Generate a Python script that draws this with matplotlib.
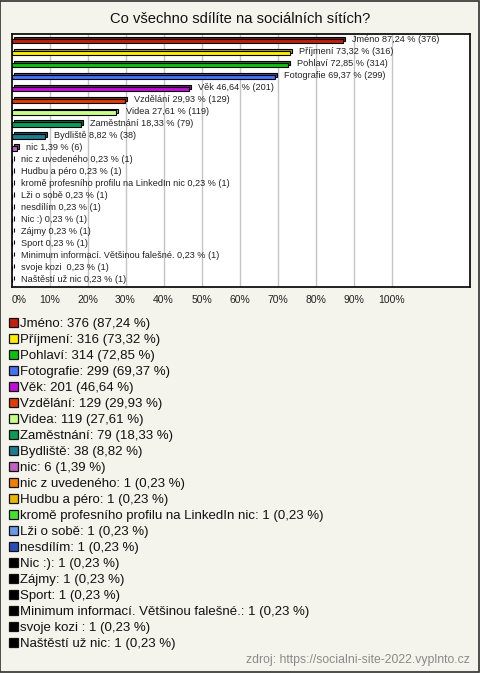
import matplotlib
matplotlib.use("Agg")
import matplotlib.pyplot as plt
from matplotlib.patches import Rectangle
from matplotlib.colors import to_rgb

plt.rcParams['font.family'] = ['Liberation Sans', 'DejaVu Sans']

# data
labels = ["Jméno", "Příjmení", "Pohlaví", "Fotografie", "Věk", "Vzdělání", "Videa",
          "Zaměstnání", "Bydliště", "nic", "nic z uvedeného", "Hudbu a péro",
          "kromě profesního profilu na LinkedIn nic", "Lži o sobě", "nesdílím",
          "Nic :)", "Zájmy", "Sport", "Minimum informací. Většinou falešné.",
          "svoje kozi ", "Naštěstí už nic"]
counts = [376, 316, 314, 299, 201, 129, 119, 79, 38, 6, 1, 1, 1, 1, 1, 1, 1, 1, 1, 1, 1]
percents = [87.24, 73.32, 72.85, 69.37, 46.64, 29.93, 27.61, 18.33, 8.82, 1.39,
            0.23, 0.23, 0.23, 0.23, 0.23, 0.23, 0.23, 0.23, 0.23, 0.23, 0.23]
colors = ["#c0200c", "#ffee00", "#10c010", "#4a72f0", "#c010d8", "#e03c08",
          "#c8ff88", "#0c9a58", "#1c7c90", "#c060c0", "#f08008", "#e8b800",
          "#48e030", "#6c98e8", "#2a4cb8", "#000000", "#000000", "#000000",
          "#000000", "#000000", "#000000"]
ticks = [0, 10, 20, 30, 40, 50, 60, 70, 80, 90, 100]


def pct(p):
    return f"{p:.2f}".replace(".", ",")


W, H = 480, 673
bg = "#f4f4ec"
fig = plt.figure(figsize=(W / 100, H / 100), dpi=100, facecolor=bg)

# outer frame
fig.patches.append(Rectangle((0.001, 0.001), 0.997, 0.997, transform=fig.transFigure,
                             fill=False, edgecolor="#303030", linewidth=1.2))

fig.text(0.5, 1 - 19 / H, "Co všechno sdílíte na sociálních sítích?",
         ha="center", va="center", fontsize=10.6, color="#111111")

left, right, top, bottom = 11.5, 470, 34, 287
ax = fig.add_axes([left / W, 1 - bottom / H, (right - left) / W, (bottom - top) / H])
ax.set_facecolor("white")

px_per_pct = 3.8
xmax = (right - left) / px_per_pct
n = len(labels)
ax.set_xlim(0, xmax)
ax.set_ylim(n - 0.45, -0.55)

for t in ticks[1:]:
    ax.axvline(t, color="#c4c4c4", linewidth=1, zorder=0)

dx = 2 / px_per_pct
dy = 2 / ((bottom - top) / n)
h = 0.34
for i, (lab, p, c, col) in enumerate(zip(labels, percents, counts, colors)):
    dark = tuple(v * 0.7 for v in to_rgb(col))
    ax.barh(i - dy, p, left=dx, height=h, color=dark, edgecolor="black",
            linewidth=0.8, zorder=2)
    ax.barh(i, p, height=h, color=col, edgecolor="black", linewidth=0.8, zorder=3)
    ax.text(p + 2.4, i - 0.05, f"{lab} {pct(p)} % ({c})", va="center", ha="left",
            fontsize=6.6, color="#222222", zorder=4)

ax.set_xticks(ticks)
ax.set_xticklabels([f"{t}%" for t in ticks], fontsize=7.5, color="#222222")
ax.get_xticklabels()[0].set_ha("left")
ax.tick_params(axis="x", length=0, pad=6)
ax.set_yticks([])
for s in ax.spines.values():
    s.set_color("#111111")
    s.set_linewidth(1.3)

# legend drawn row by row
y0, step = 322, 16
for i, (lab, p, c, col) in enumerate(zip(labels, percents, counts, colors)):
    yc = y0 + i * step
    fig.patches.append(Rectangle((9 / W, 1 - (yc + 4.5) / H), 8.5 / W, 8.5 / H,
                                 transform=fig.transFigure, facecolor=col,
                                 edgecolor="#111111", linewidth=0.9))
    fig.text(20 / W, 1 - (yc + 4.5) / H, f"{lab}: {c} ({pct(p)} %)",
             ha="left", va="baseline", fontsize=9.5, color="#111111")

fig.text(470 / W, 1 - 660 / H, "zdroj: https://socialni-site-2022.vyplnto.cz",
         ha="right", va="center", fontsize=8.8, color="#8a8a8a")

fig.savefig("out.png", dpi=100, facecolor=bg)
